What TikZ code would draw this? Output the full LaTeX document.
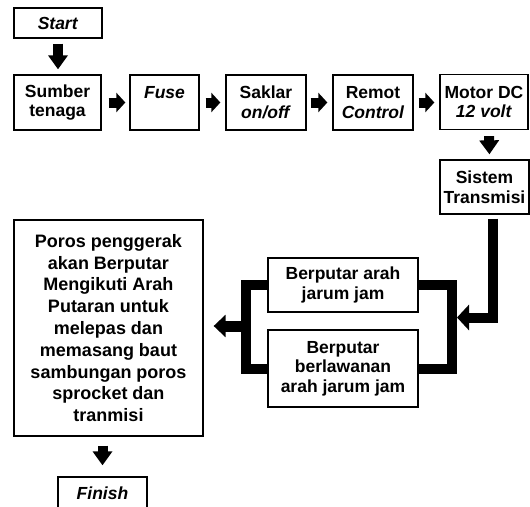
\documentclass[tikz,border=0pt]{standalone}
\usepackage{fontspec}
\setmainfont{Liberation Sans}
\usetikzlibrary{arrows.meta}

\begin{document}
\begin{tikzpicture}[x=1pt,y=-1pt,
  box/.style={draw,line width=1.3pt,inner sep=0pt,align=center,font=\bfseries\fontsize{17.5}{19.5}\selectfont},
  smallarrow/.style={line width=10pt,-{Triangle[width=19pt,length=9pt]}},
  downarrow/.style={line width=10pt,-{Triangle[width=19pt,length=14pt]}},
  bracket/.style={line width=10pt,line join=miter}]

\useasboundingbox (0,0) rectangle (530,506);

\node[box,minimum width=88pt,minimum height=30pt] (start) at (58,23) {\textit{Start}};
\node[box,minimum width=87pt,minimum height=55pt] (sumber) at (57.5,102.5) {Sumber\\tenaga};
\node[box,minimum width=69pt,minimum height=55pt] (fuse) at (164.5,102.5) {\textit{Fuse}\\\mbox{}};
\node[box,minimum width=80pt,minimum height=55pt] (saklar) at (266,102.5) {Saklar\\\textit{on/off}};
\node[box,minimum width=80pt,minimum height=55pt] (remot) at (373,102.5) {Remot\\\textit{Control}};
\node[box,minimum width=88pt,minimum height=55pt] (motor) at (484,102) {Motor DC\\\textit{12 volt}};
\node[box,minimum width=89pt,minimum height=54pt] (sistem) at (484.5,187) {Sistem\\Transmisi};
\node[box,minimum width=150pt,minimum height=54pt] (searah) at (343,285) {Berputar arah\\jarum jam};
\node[box,minimum width=150pt,minimum height=77pt] (lawan) at (343,368.5) {Berputar\\berlawanan\\arah jarum jam};
\node[box,minimum width=189pt,minimum height=216pt,font=\bfseries\fontsize{18}{21.8}\selectfont] (poros) at (108.5,328)
  {Poros penggerak\\akan Berputar\\Mengikuti Arah\\Putaran untuk\\melepas dan\\memasang baut\\sambungan poros\\sprocket dan\\tranmisi};
\node[box,minimum width=89pt,minimum height=32pt] (finish) at (102.5,493) {\textit{Finish}};

\coordinate (lj) at (246,326);
\coordinate (rj) at (452,317.5);

\draw[downarrow,shorten <=5pt,shorten >=5pt] (start.south) -- (start.south |- sumber.north);
\draw[smallarrow,shorten <=7pt,shorten >=4pt] (sumber.east) -- (fuse.west);
\draw[smallarrow,shorten <=6pt,shorten >=5pt] (fuse.east) -- (saklar.west);
\draw[smallarrow,shorten <=4pt,shorten >=5pt] (saklar.east) -- (remot.west);
\draw[smallarrow,shorten <=5pt,shorten >=5pt] (remot.east) -- (remot.east -| motor.west);
\draw[downarrow,shorten <=6pt,shorten >=5pt] ([xshift=5pt]motor.south) -- ([xshift=5pt]sistem.north);
\draw[downarrow,shorten <=9pt,shorten >=11pt] (poros.south -| finish.north) -- (finish.north);

\draw[bracket,-{Triangle[width=25pt,length=12pt]},shorten >=5pt] ([xshift=8pt,yshift=-4pt]sistem.south) |- (rj);
\draw[bracket] (searah.east) -| (rj) |- (lawan.east);
\draw[bracket] (searah.west) -| (lj) |- (lawan.west);
\draw[line width=11pt,-{Triangle[width=22pt,length=12pt]},shorten >=10pt] (lj) -- (lj -| poros.east);
\end{tikzpicture}
\end{document}
